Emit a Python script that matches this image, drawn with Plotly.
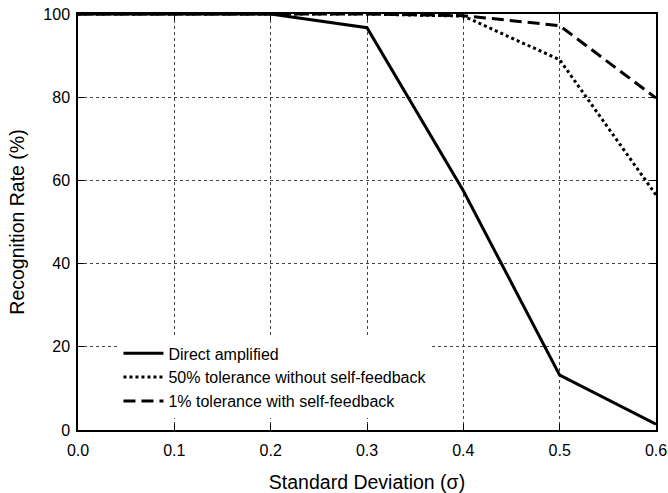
import plotly.graph_objects as go

sigma = [0.0, 0.1, 0.2, 0.3, 0.4, 0.5, 0.6]
direct = [100, 100, 100, 96.7, 57.5, 13.2, 1.4]
tol50 = [100, 100, 100, 100, 99.5, 89, 56.5]
tol1 = [100, 100, 100, 100, 99.6, 97.2, 79.8]
names = ["Direct amplified", "50% tolerance without self-feedback", "1% tolerance with self-feedback"]

FONT = "Liberation Sans, Arial"

fig = go.Figure()
fig.add_trace(go.Scatter(x=sigma, y=direct, mode="lines", name=names[0],
                         line=dict(color="black", width=3, dash="solid")))
fig.add_trace(go.Scatter(x=sigma, y=tol50, mode="lines", name=names[1],
                         line=dict(color="black", width=3, dash="dot")))
fig.add_trace(go.Scatter(x=sigma, y=tol1, mode="lines", name=names[2],
                         line=dict(color="black", width=3, dash="12px,6px")))

axis_common = dict(showline=True, linecolor="black", linewidth=1.5, mirror="ticks",
                   ticks="inside", ticklen=6, tickcolor="black", automargin=False,
                   showgrid=True, gridcolor="#444", griddash="dot", gridwidth=1,
                   zeroline=False, tickfont=dict(family=FONT, size=16, color="black"))

fig.update_xaxes(range=[0, 0.6], tickvals=[0, 0.1, 0.2, 0.3, 0.4, 0.5, 0.6],
                 ticktext=["0.0", "0.1", "0.2", "0.3", "0.4", "0.5", "0.6"],
                 ticklabelstandoff=5,
                 title=dict(text="Standard Deviation (σ)", font=dict(family=FONT, size=19.5, color="black"), standoff=18),
                 **axis_common)
fig.update_yaxes(range=[0, 100], tickvals=[0, 20, 40, 60, 80, 100],
                 ticklabelstandoff=3,
                 title=dict(text="Recognition Rate (%)", font=dict(family=FONT, size=19.5, color="black"), standoff=14),
                 **axis_common)

fig.update_layout(
    width=668, height=493,
    margin=dict(l=78, r=12, t=14, b=63),
    plot_bgcolor="white", paper_bgcolor="white",
    showlegend=True,
    legend=dict(x=0.07, y=0.225, xanchor="left", yanchor="top",
                bgcolor="white", borderwidth=0,
                font=dict(family=FONT, size=16, color="black"),
                tracegroupgap=0, itemwidth=40),
)

fig.write_html("out.html")
